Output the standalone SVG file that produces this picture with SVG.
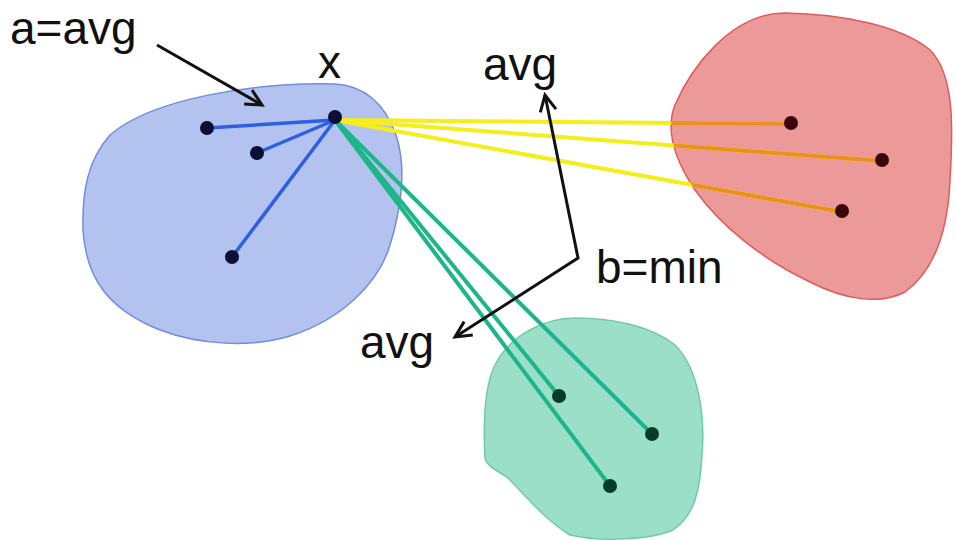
<svg xmlns="http://www.w3.org/2000/svg" width="956" height="540" viewBox="0 0 956 540">
<defs>
<marker id="ah" viewBox="0 0 22 22" refX="18" refY="11" markerWidth="22" markerHeight="22" markerUnits="userSpaceOnUse" orient="auto-start-reverse">
<path d="M2,3 L18,11 L2,19" fill="none" stroke="#111" stroke-width="3" stroke-linejoin="miter"/>
</marker>
<path id="red-shape" d="M785,13 C840,14 900,25 930,50 C955,75 953,130 950,180 C948,230 935,270 905,292 C880,305 845,300 810,282 C760,258 720,225 695,190 C675,160 665,130 675,105 C690,70 730,13 785,13 Z"/>
<clipPath id="red-clip"><use href="#red-shape"/></clipPath>
</defs>
<style>
text{font-family:"Liberation Sans","Open Sans",sans-serif;font-size:46px;fill:#111}
.arrow{fill:none;stroke:#111;stroke-width:3;stroke-linejoin:miter}
.yl{stroke:#f4ee1c;stroke-width:4;stroke-linecap:round}
.ol{stroke:#e8921c;stroke-width:4;stroke-linecap:round}
.gl{stroke:#1db58a;stroke-width:4;stroke-linecap:round}
.bl{stroke:#2d5fe0;stroke-width:3.5;stroke-linecap:round}
</style>
<rect width="956" height="540" fill="#ffffff"/>
<g id="cluster-blue">
<path d="M335,84 C370,86 387,110 396,135 C406,165 402,205 390,245 C378,285 340,320 290,336 C250,348 200,345 160,330 C110,310 86,280 83,230 C82,190 88,160 110,135 C150,100 250,82 335,84 Z" fill="#b3c2ef" stroke="#6f8ee0" stroke-width="1.5"/>
</g>
<g id="cluster-red">
<use href="#red-shape" fill="#ec9999" stroke="#e05a5a" stroke-width="1.5"/>
</g>
<g id="cluster-green">
<path d="M575,318 C610,318 650,325 675,345 C700,370 705,420 702,455 C700,490 695,515 673,530 C650,540 600,542 570,535 C545,520 525,495 507,477 C495,470 486,465 485,458 C483,420 485,385 495,365 C510,335 545,318 575,318 Z" fill="#9cdfc8" stroke="#6fcaa8" stroke-width="1.5"/>
</g>
<g id="connectors">
<line class="yl" x1="335" y1="120" x2="791" y2="124"/>
<line class="yl" x1="335" y1="120" x2="882" y2="161"/>
<line class="yl" x1="335" y1="120" x2="842" y2="212"/>
<g clip-path="url(#red-clip)">
<line class="ol" x1="335" y1="120" x2="791" y2="124"/>
<line class="ol" x1="335" y1="120" x2="882" y2="161"/>
<line class="ol" x1="335" y1="120" x2="842" y2="212"/>
</g>
<line class="bl" x1="335" y1="120" x2="207" y2="128"/>
<line class="bl" x1="335" y1="120" x2="257" y2="153"/>
<line class="bl" x1="335" y1="120" x2="232" y2="257"/>
<line class="gl" x1="335" y1="120" x2="559" y2="396"/>
<line class="gl" x1="335" y1="120" x2="652" y2="434"/>
<line class="gl" x1="335" y1="120" x2="610" y2="486"/>
<line class="arrow" x1="157" y1="45" x2="262" y2="105" marker-end="url(#ah)"/>
<polyline class="arrow" points="455,337 578,258 545,95" marker-start="url(#ah)" marker-end="url(#ah)"/>
</g>
<g id="points-blue" fill="#0b0f33">
<circle id="point-x" cx="335" cy="117" r="7"/>
<circle cx="207" cy="128" r="7"/>
<circle cx="257" cy="153" r="7"/>
<circle cx="232" cy="257" r="7"/>
</g>
<g id="points-red" fill="#3a0608">
<circle cx="791" cy="123" r="7"/>
<circle cx="882" cy="160" r="7"/>
<circle cx="842" cy="211" r="7"/>
</g>
<g id="points-green" fill="#063d28">
<circle cx="559" cy="396" r="7"/>
<circle cx="652" cy="434" r="7"/>
<circle cx="610" cy="486" r="7"/>
</g>
<g id="labels">
<text x="10" y="44">a=avg</text>
<text x="318" y="78">x</text>
<text x="483" y="80">avg</text>
<text x="596" y="283">b=min</text>
<text x="360" y="358">avg</text>
</g>
</svg>
